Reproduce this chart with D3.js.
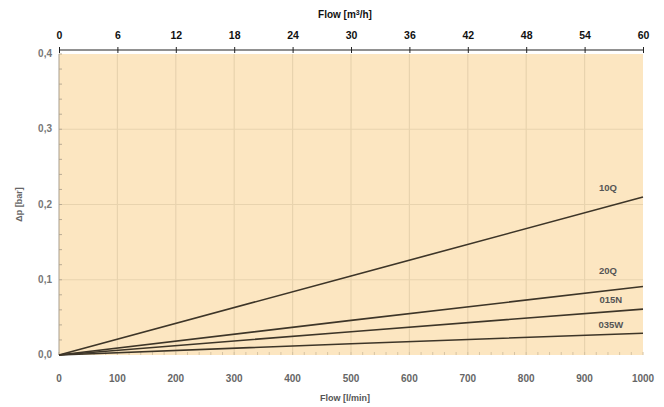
<!DOCTYPE html>
<html><head><meta charset="utf-8">
<script src="https://cdn.jsdelivr.net/npm/d3@7"></script>
<style>body{margin:0;background:#fff}svg{display:block}</style>
</head><body>
<script>
const flowLpm = [0, 500, 1000];
const series = [
  {name: "10Q",  values: [0, 0.105, 0.21]},
  {name: "20Q",  values: [0, 0.046, 0.091]},
  {name: "015N", values: [0, 0.031, 0.061]},
  {name: "035W", values: [0, 0.015, 0.029]}
];
const labelPos = [
  {name: "10Q", x: 940, y: 0.218},
  {name: "20Q", x: 940, y: 0.107},
  {name: "015N", x: 945, y: 0.069},
  {name: "035W", x: 945, y: 0.036}
];
const bottomTicks = [0,100,200,300,400,500,600,700,800,900,1000];
const topTicks = [0,6,12,18,24,30,36,42,48,54,60];
const yTicks = [0, 0.1, 0.2, 0.3, 0.4];

const W = 664, H = 407;
const m = {l: 59, r: 21, t: 54, b: 52};
const svg = d3.select("body").append("svg").attr("width", W).attr("height", H);
const x = d3.scaleLinear().domain([0, 1000]).range([m.l, W - m.r]);
const x2 = d3.scaleLinear().domain([0, 60]).range([m.l, W - m.r]);
const y = d3.scaleLinear().domain([0, 0.4]).range([H - m.b, m.t]);

svg.append("rect").attr("x", x(0)).attr("y", y(0.4)).attr("width", x(1000) - x(0)).attr("height", y(0) - y(0.4)).attr("fill", "#fce6c1");

// grid
svg.append("g").selectAll("line").data(bottomTicks.slice(1, -1)).join("line")
  .attr("x1", d => x(d)).attr("x2", d => x(d)).attr("y1", y(0.4)).attr("y2", y(0))
  .attr("stroke", "#e8d3ae").attr("stroke-width", 1.2);
svg.append("g").selectAll("line").data(yTicks.slice(1, -1)).join("line")
  .attr("x1", x(0)).attr("x2", x(1000)).attr("y1", d => y(d)).attr("y2", d => y(d))
  .attr("stroke", "#e8d3ae").attr("stroke-width", 1.2);

// minor ticks
svg.append("g").selectAll("line").data(d3.range(0, 0.401, 0.02)).join("line")
  .attr("x1", x(0)).attr("x2", x(0) + 3).attr("y1", d => y(d)).attr("y2", d => y(d))
  .attr("stroke", "#b9ab94").attr("stroke-width", 1);
svg.append("g").selectAll("line").data(d3.range(0, 1001, 20)).join("line")
  .attr("x1", d => x(d)).attr("x2", d => x(d)).attr("y1", y(0)).attr("y2", y(0) - 3)
  .attr("stroke", "#d6c3a2").attr("stroke-width", 1);

// left axis line
svg.append("line").attr("x1", x(0)).attr("x2", x(0)).attr("y1", y(0.4)).attr("y2", y(0))
  .attr("stroke", "#a89e8e").attr("stroke-width", 1);

// top axis
const topAxis = d3.axisTop(x2).tickValues(topTicks).tickSize(3).tickPadding(8).tickFormat(d3.format("d"));
const gt = svg.append("g").attr("transform", `translate(0,${y(0.4) - 4})`).call(topAxis);
gt.select(".domain").attr("stroke", "#222").attr("d", `M${x2(0)},0H${x2(60)}`);
gt.selectAll(".tick line").attr("y1", 3).attr("y2", -3).attr("stroke", "#222");
gt.selectAll("text").attr("font-family", "Liberation Sans, Arial, sans-serif").attr("font-size", 10.5).attr("font-weight", "bold").attr("fill", "#111");
svg.append("text").attr("x", 345).attr("y", 18).attr("text-anchor", "middle")
  .attr("font-family", "Liberation Sans, Arial, sans-serif").attr("font-size", 10).attr("font-weight", "bold").attr("fill", "#111")
  .html("Flow [m<tspan dy='-3' font-size='7'>3</tspan><tspan dy='3'>/h]</tspan>");

// bottom labels
svg.append("g").selectAll("text").data(bottomTicks).join("text")
  .attr("x", d => x(d)).attr("y", y(0) + 27).attr("text-anchor", "middle")
  .attr("font-family", "Liberation Sans, Arial, sans-serif").attr("font-size", 10).attr("fill", "#666").attr("font-weight", "bold")
  .text(d => d);
svg.append("text").attr("x", 345).attr("y", 401).attr("text-anchor", "middle")
  .attr("font-family", "Liberation Sans, Arial, sans-serif").attr("font-size", 9).attr("font-weight", "bold").attr("fill", "#555")
  .text("Flow [l/min]");

// y labels
svg.append("g").selectAll("text").data(yTicks).join("text")
  .attr("x", x(0) - 7).attr("y", d => y(d) + 3).attr("text-anchor", "end")
  .attr("font-family", "Liberation Sans, Arial, sans-serif").attr("font-size", 10).attr("font-weight", "bold").attr("fill", "#777")
  .text(d => d3.format(".1f")(d).replace(".", ","));
svg.append("text").attr("transform", `translate(22,${(y(0.2))}) rotate(-90)`).attr("text-anchor", "middle")
  .attr("font-family", "Liberation Sans, Arial, sans-serif").attr("font-size", 9).attr("font-weight", "bold").attr("fill", "#666")
  .text("Δp [bar]");

// lines
const line = d3.line().x((d, i) => x(flowLpm[i])).y(d => y(d));
svg.append("g").selectAll("path").data(series).join("path")
  .attr("d", d => line(d.values)).attr("fill", "none").attr("stroke", "#3d3528").attr("stroke-width", 1.6);

svg.append("g").selectAll("text").data(labelPos).join("text")
  .attr("x", d => x(d.x)).attr("y", d => y(d.y)).attr("text-anchor", "middle")
  .attr("font-family", "Liberation Sans, Arial, sans-serif").attr("font-size", 9.5).attr("font-weight", "bold").attr("fill", "#555")
  .text(d => d.name);
</script>
</body></html>
